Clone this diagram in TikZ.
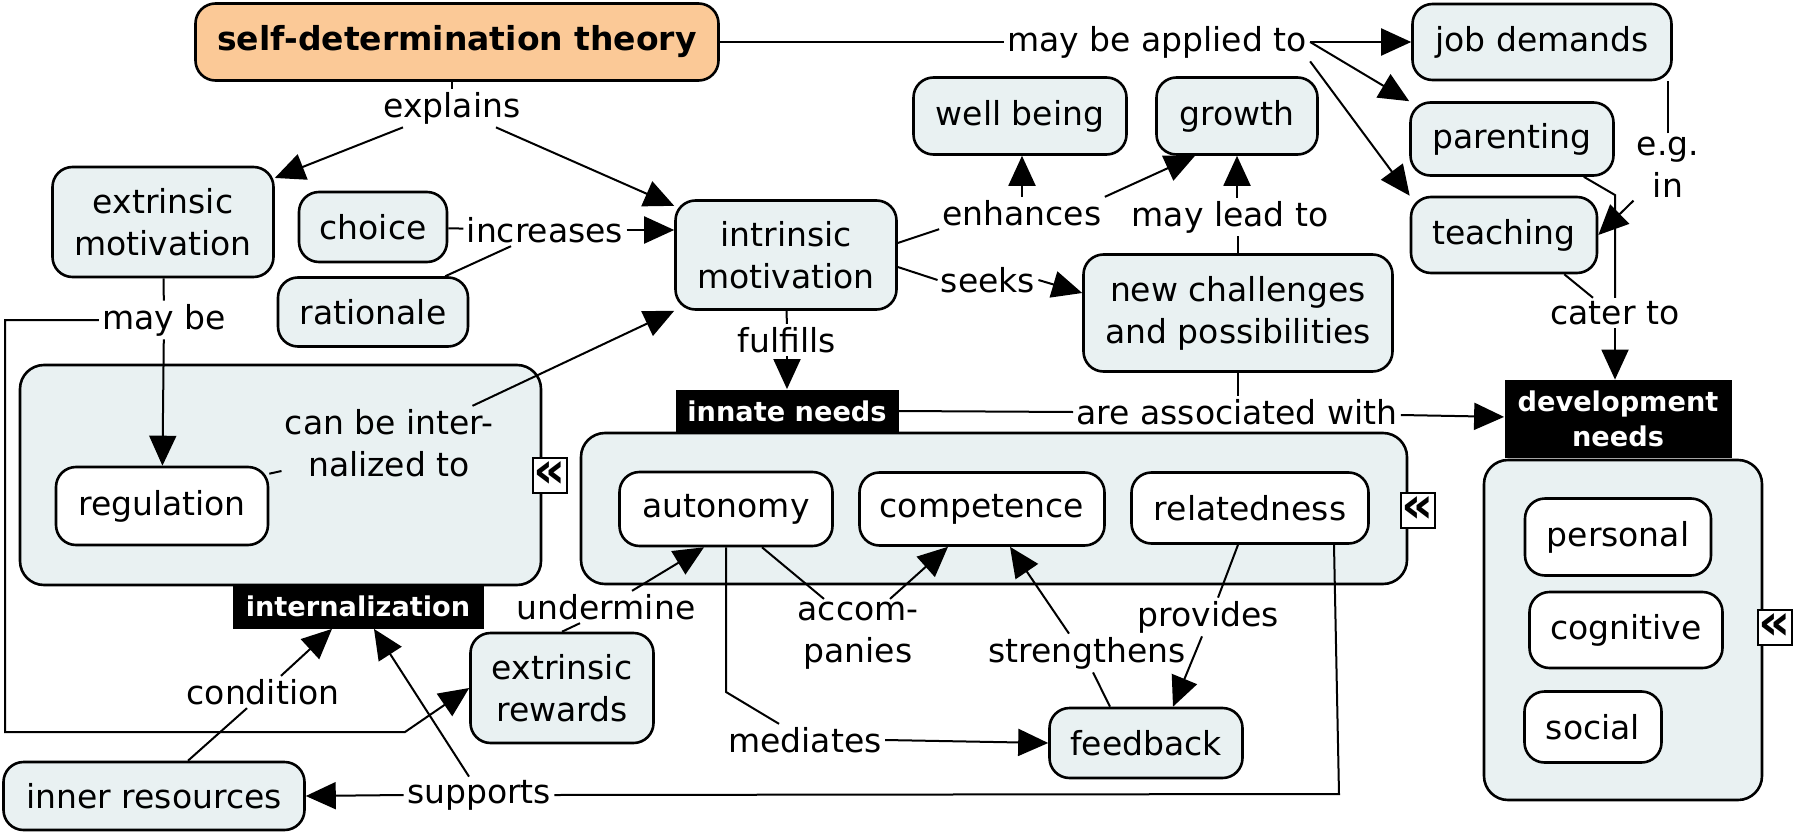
\documentclass[tikz,border=0pt]{standalone}
\usepackage{fontspec}
\setmainfont{DejaVu Sans}
\usetikzlibrary{arrows.meta}
\definecolor{cfill}{RGB}{233,241,242}
\definecolor{peach}{RGB}{251,201,151}
\newcommand{\txt}{\fontsize{16.5}{21}\selectfont}
\newcommand{\tagtxt}{\fontsize{13.6}{17.5}\selectfont\bfseries}
\tikzset{
	concept/.style={draw,line width=1.3pt,rounded corners=10pt,fill=cfill,align=center,font=\txt,inner sep=0pt},
	plain/.style={concept,fill=white},
	frame/.style={draw,line width=1.3pt,rounded corners=12pt,fill=cfill,inner sep=0pt},
	tag/.style={fill=black,text=white,font=\tagtxt,align=center,inner sep=0pt},
	phrase/.style={font=\txt,align=center,inner sep=1.5pt},
	fold/.style={draw,line width=1pt,fill=white,inner sep=0pt,minimum width=17pt,minimum height=17.5pt,font=\fontsize{25}{25}\selectfont\bfseries},
	link/.style={line width=1pt},
	arr/.style={link,-{Triangle[length=15pt,width=13.5pt]}}
}
\begin{document}
\begin{tikzpicture}[x=0.5pt,y=-0.5pt]
	\useasboundingbox (0,0) rectangle (1800,835);
	\node[frame,minimum width=260.5pt,minimum height=110pt] (intbox) at (280.5,475) {};
	\node[frame,minimum width=413pt,minimum height=75.5pt] (innbox) at (994,508.5) {};
	\node[frame,minimum width=139pt,minimum height=170pt] (devbox) at (1623,630) {};
	\node[tag,minimum width=125.5pt,minimum height=22.5pt] (intlab) at (358,606) {internalization};
	\node[tag,minimum width=111.5pt,minimum height=21.5pt] (innlab) at (787,411) {innate needs};
	\node[tag,minimum width=113.5pt,minimum height=39pt] (devlab) at (1618,419) {development\\needs};
	\node[fold] (f1) at (550,475) {«};
	\node[fold] (f2) at (1418,510) {«};
	\node[fold] (f3) at (1775,627) {«};

	\node[concept,fill=peach,font=\txt\bfseries,minimum width=261.5pt,minimum height=38.5pt] (sdt) at (457,42) {self-determination theory};
	\node[concept,minimum width=129.5pt,minimum height=38pt] (jobd) at (1542,42) {job demands};
	\node[concept,minimum width=101.5pt,minimum height=36.5pt] (parent) at (1512,139) {parenting};
	\node[concept,minimum width=93pt,minimum height=38pt] (teach) at (1504,235) {teaching};
	\node[concept,minimum width=106.5pt,minimum height=38.5pt] (wellb) at (1020,116) {well being};
	\node[concept,minimum width=80.5pt,minimum height=38.5pt] (growth) at (1237,116) {growth};
	\node[concept,minimum width=110.5pt,minimum height=55pt] (extm) at (163,222) {extrinsic\\motivation};
	\node[concept,minimum width=74pt,minimum height=35pt] (choice) at (373,227) {choice};
	\node[concept,minimum width=95pt,minimum height=34.5pt] (ration) at (373,312) {rationale};
	\node[concept,minimum width=110.5pt,minimum height=54.5pt] (intm) at (786,255) {intrinsic\\motivation};
	\node[concept,minimum width=154.5pt,minimum height=58.5pt] (newch) at (1238,313) {new challenges\\and possibilities};
	\node[plain,minimum width=106pt,minimum height=39pt] (regul) at (162,506) {regulation};
	\node[plain,minimum width=106.5pt,minimum height=37pt] (auton) at (726,509) {autonomy};
	\node[plain,minimum width=122.5pt,minimum height=36.5pt] (compet) at (982,509) {competence};
	\node[plain,minimum width=118.5pt,minimum height=35.5pt] (relat) at (1250,508) {relatedness};
	\node[plain,minimum width=93pt,minimum height=38.5pt] (personal) at (1618,537) {personal};
	\node[plain,minimum width=96.5pt,minimum height=38pt] (cognitive) at (1626,630) {cognitive};
	\node[plain,minimum width=68.5pt,minimum height=35.5pt] (social) at (1593,727) {social};
	\node[concept,minimum width=91.5pt,minimum height=55pt] (extrew) at (562,688) {extrinsic\\rewards};
	\node[concept,minimum width=96.5pt,minimum height=35pt] (feedb) at (1146,743) {feedback};
	\node[concept,minimum width=150.5pt,minimum height=34pt] (innres) at (154,796) {inner resources};

	\node[phrase] (explains) at (452,108) {explains};
	\node[phrase] (mayapp) at (1157,42) {may be applied to};
	\node[phrase] (egin) at (1668,167) {e.g.\\in};
	\node[phrase] (cater) at (1615,313) {cater to};
	\node[phrase] (enhances) at (1022,213) {enhances};
	\node[phrase] (maylead) at (1230,217) {may lead to};
	\node[phrase] (increases) at (545,230) {increases};
	\node[phrase] (seeks) at (988,280) {seeks};
	\node[phrase] (fulfills) at (787,340) {fulfills};
	\node[phrase] (assoc) at (1237,412) {are associated with};
	\node[phrase] (maybe) at (164,320) {may be};
	\node[phrase] (caninter) at (389,443) {can be inter-\\nalized to};
	\node[phrase] (undermine) at (606,607) {undermine};
	\node[phrase] (accomp) at (858,636) {accom-\\panies};
	\node[phrase] (strength) at (1087,653) {strengthens};
	\node[phrase] (provides) at (1208,617) {provides};
	\node[phrase] (mediates) at (805,740) {mediates};
	\node[phrase] (condition) at (263,692) {condition};
	\node[phrase] (supports) at (479,795) {supports};

	\coordinate (c1) at (5,320);
	\coordinate (c2) at (5,732);
	\coordinate (c3) at (405,732);
	\coordinate (c4) at (726,692);
	\coordinate (c5) at (1339,794);
	\coordinate (c6) at (1615,195);

	\draw[link] (explains) -- (explains |- sdt.south);
	\draw[arr] (explains) -- (extm);
	\draw[arr] (explains) -- (intm);
	\draw[link] (sdt) -- (mayapp);
	\draw[arr] (mayapp) -- (jobd);
	\draw[arr] (mayapp.east) -- (parent.north west);
	\draw[arr] (mayapp.south east) -- (teach.north west);
	\draw[link] (egin.north) -- (egin.north |- jobd.south);
	\draw[arr] (egin.south west) -- (teach.east);
	\draw[link] ([xshift=-15.5pt]parent.south east) -- (c6) -- (cater);
	\draw[link] ([xshift=-17pt]teach.south east) -- ([xshift=-11pt]cater.north);
	\draw[arr] (cater.south) -- (cater.south |- devlab.north);
	\draw[link] ([yshift=6pt]intm.east) -- (enhances.south west);
	\draw[arr] (enhances) -- (enhances |- wellb.south);
	\draw[arr] (enhances.north east) -- ([xshift=-21pt]growth.south);
	\draw[link] ([yshift=-6pt]intm.east) -- (seeks.west);
	\draw[arr] (seeks.east) -- ([yshift=10pt]newch.west);
	\draw[link] (newch.north) -- (newch.north |- maylead.south);
	\draw[arr] (growth.south |- maylead.north) -- (growth.south);
	\draw[link] (intm) -- (fulfills);
	\draw[arr] (fulfills) -- (innlab);
	\draw[link] (innlab.east) -- (assoc.west);
	\draw[link] (newch.south) -- (newch.south |- assoc.north);
	\draw[arr] (assoc) -- (devlab);
	\draw[link] (choice) -- (increases);
	\draw[arr] (increases.east) -- (intm.west |- increases.east);
	\draw[link] ([xshift=-12pt]ration.north east) -- ([xshift=-17pt]increases.south);
	\draw[link] (extm) -- (maybe);
	\draw[arr] (maybe) -- (regul);
	\draw[arr] (maybe.west) -- (c1) -- (c2) -- (c3) -- (extrew.west);
	\draw[link] ([yshift=-4pt]regul.north east) -- ([yshift=-14pt]caninter.west);
	\draw[arr] ([xshift=-12pt]caninter.north east) -- (intm.south west);
	\draw[link] (extrew.north) -- ([xshift=-13pt]undermine.south);
	\draw[arr] ([xshift=13pt]undermine.north) -- ([xshift=-11pt]auton.south);
	\draw[link] ([xshift=18pt]auton.south) -- ([xshift=-17pt]accomp.north);
	\draw[arr] ([xshift=16pt]accomp.north) -- ([xshift=-17pt]compet.south);
	\draw[link] (auton.south) -- (c4) -- ([xshift=-13pt]mediates.north);
	\draw[arr] (mediates.east) -- (feedb.west);
	\draw[link] ([xshift=-18pt]feedb.north) -- ([xshift=3pt]strength.south);
	\draw[arr] ([xshift=-9pt]strength.north) -- ([xshift=14pt]compet.south);
	\draw[link] ([xshift=-6pt]relat.south) -- ([xshift=5pt]provides.north);
	\draw[arr] ([xshift=-3pt]provides.south) -- ([xshift=13.5pt]feedb.north);
	\draw[link] ([xshift=42pt]relat.south) -- (c5) -- (supports.east);
	\draw[arr] (supports.west) -- (innres.east);
	\draw[arr] ([xshift=-5pt]supports.north) -- ([xshift=8pt]intlab.south);
	\draw[link] ([xshift=17pt]innres.north) -- ([xshift=-8pt]condition.south);
	\draw[arr] ([xshift=9pt]condition.north) -- ([xshift=-13pt]intlab.south);
\end{tikzpicture}
\end{document}
